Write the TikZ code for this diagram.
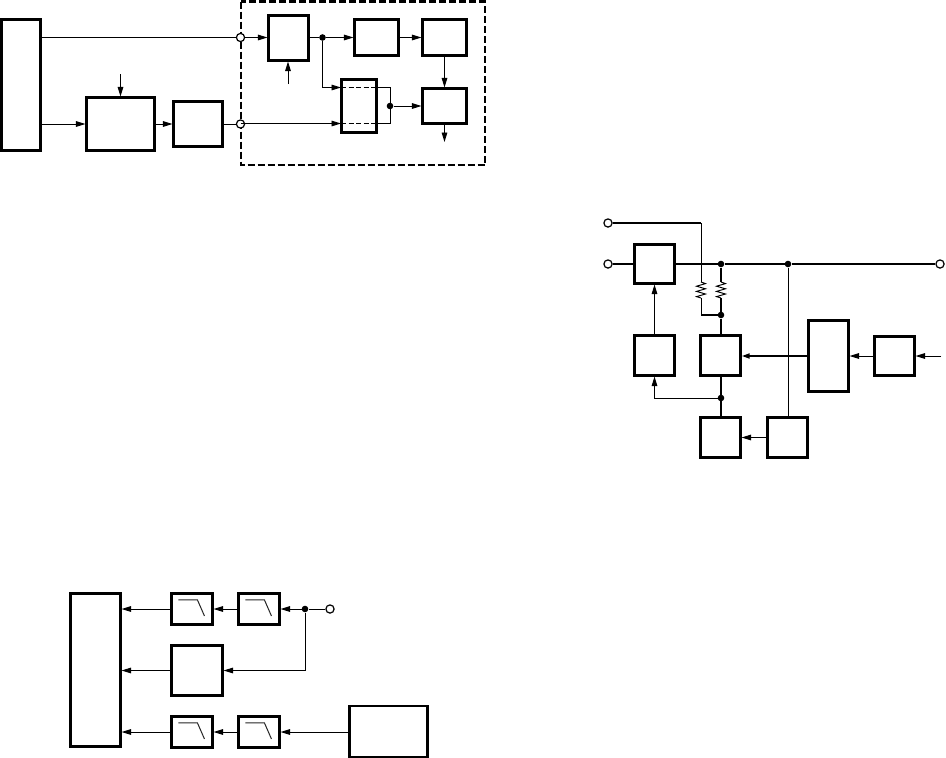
\documentclass[tikz,border=0pt]{standalone}
\usetikzlibrary{arrows.meta,calc}
\tikzset{
  x=1pt,y=-1pt,
  thinline/.style={line width=.95pt},
  thickline/.style={line width=2.5pt},
  arr/.style={thinline,-{Triangle[length=9.5pt,width=5.6pt]}},
  thickarr/.style={thickline,-{Triangle[length=8pt,width=4.8pt]}},
  blk/.style={draw,line width=2.5pt,inner sep=0pt,fill=white},
  opn/.style={circle,draw,line width=1.2pt,fill=white,minimum size=8.2pt,inner sep=0pt},
  dot/.style={circle,fill=black,minimum size=6.6pt,inner sep=0pt},
}
\newcommand\bx[5]{%
  \pgfmathsetmacro\bw{#4-#2-1.4}\pgfmathsetmacro\bh{#5-#3-1.4}%
  \pgfmathsetmacro\bcx{(#4+#2)/2}\pgfmathsetmacro\bcy{(#5+#3)/2}%
  \node[blk,minimum width=\bw pt,minimum height=\bh pt] (#1) at (\bcx,\bcy) {};}
\newcommand\resist[1]{%
  \draw[thinline] (#1) -- ++(4.5,1.6) -- ++(-9,2.6) -- ++(9,2.6) -- ++(-9,2.6) -- ++(9,2.6) -- ++(-9,2.6) -- ++(4.5,1.4);}
\newcommand\lowpass[1]{%
  \draw[line width=1pt,black!85] ($(#1.north west)+(8,7.5)$) -- ++(19,0) -- ++(7,16);}
\begin{document}
\begin{tikzpicture}
\useasboundingbox (0,0) rectangle (946,758);
% --- top left ---
\bx{A}{1}{19}{41}{151}
\bx{B}{86}{97}{155}{151}
\bx{C}{173}{101}{223}{147}
\draw[line width=2.2pt,dashed,dash pattern=on 7pt off 3pt] (241,1.5) rectangle (485,165);
\bx{D}{268}{15}{309}{61}
\bx{E}{354}{19}{399}{56}
\bx{F}{422}{19}{467}{56}
\bx{G}{341}{79}{377}{133}
\bx{H}{422}{88}{467}{124}
\node[opn] (c1) at (240.5,37.5) {};
\node[opn] (c2) at (240.5,124) {};
\node[dot] (d1) at (322.5,37.5) {};
\node[dot] (d2) at (390,106) {};
\coordinate (bin) at (120.5,74);
\coordinate (din) at (288,84);
\coordinate (hout) at (444.5,142);
\coordinate (g1) at (341,87.5);
\coordinate (g2) at (341,123.5);
\coordinate (g1r) at (377,87.5);
\coordinate (g2r) at (377,123.5);
\coordinate (k1) at (390,87.5);
\coordinate (k2) at (390,123.5);
\draw[thinline] (A.east |- c1) -- (c1);
\draw[arr] (A.east |- c2) -- (B.west |- c2);
\draw[arr] (bin) -- (B.north -| bin);
\draw[arr] (B.east |- c2) -- (C.west |- c2);
\draw[thinline] (C.east |- c2) -- (c2);
\draw[arr] (c1) -- (D.west |- c1);
\draw[arr] (din) -- (D.south -| din);
\draw[thinline] (D.east |- d1) -- (d1);
\draw[arr] (d1) -- (E.west |- d1);
\draw[arr] (E.east |- d1) -- (F.west |- d1);
\draw[arr] (F.south) -- (H.north);
\draw[arr] (H.south) -- (hout);
\draw[arr] (d1) |- (g1);
\draw[arr] (c2 |- g2) -- (g2);
\draw[thinline,dashed,dash pattern=on 5pt off 2.5pt] (g1) -- (g1r);
\draw[thinline,dashed,dash pattern=on 5pt off 2.5pt] (g2) -- (g2r);
\draw[thinline] (g1r) -- (k1) -- (k2) -- (g2r);
\draw[arr] (d2) -- (H.west |- d2);
% --- right ---
\bx{J}{634}{244}{675}{284}
\bx{K}{634}{335}{675}{376}
\bx{L}{700}{335}{741}{376}
\bx{M}{700}{417}{741}{458}
\bx{N}{767}{417}{808}{458}
\bx{P}{808}{320}{849}{392}
\bx{Q}{874}{336}{915}{376}
\node[opn] (o1) at (608,223) {};
\node[opn] (o2) at (608,264) {};
\node[opn] (o3) at (940,264) {};
\node[dot] (e1) at (721,264) {};
\node[dot] (e2) at (788,264) {};
\node[dot] (e3) at (721,315) {};
\node[dot] (e4) at (721,398) {};
\coordinate (t1) at (701,223);
\coordinate (r1t) at (701,282);
\coordinate (r1b) at (701,298);
\coordinate (r2t) at (721,282);
\coordinate (r2b) at (721,298);
\coordinate (e3l) at (701,315);
\coordinate (qin) at (941,356);
\draw[thickline] (o1) -- (t1);
\draw[thinline] (t1) -- (r1t);
\resist{r1t}
\draw[thinline] (r1b) -- (e3l);
\draw[thickline] (e3l) -- (e3);
\draw[thickline] (o2) -- (J.west |- o2);
\draw[thickline] (J.east |- o2) -- (e1) -- (e2) -- (o3);
\draw[thickline] (e1) -- (r2t);
\resist{r2t}
\draw[thickline] (r2b) -- (e3);
\draw[thickline] (e3) -- (L.north -| e3);
\draw[thickline] (L.south -| e4) -- (M.north -| e4);
\draw[thinline] (e2) -- (N.north -| e2);
\draw[arr] (K.north) -- (J.south);
\draw[arr] (e4) -| (K.south);
\draw[thickarr] (P.west |- qin) -- (L.east |- qin);
\draw[arr] (Q.west |- qin) -- (P.east |- qin);
\draw[arr] (qin) -- (Q.east |- qin);
\draw[arr] (N.west) -- (M.east);
% --- bottom left ---
\bx{R}{70}{593}{121}{747}
\bx{S1}{171}{593}{213}{625}
\bx{S2}{238}{593}{280}{625}
\bx{T}{171}{645}{223}{696}
\bx{U1}{171}{716}{213}{748}
\bx{U2}{238}{716}{280}{748}
\bx{V}{349}{705.5}{428}{757.5}
\lowpass{S1}\lowpass{S2}\lowpass{U1}\lowpass{U2}
\node[dot] (f1) at (305,609) {};
\node[opn] (f2) at (330,609) {};
\coordinate (tr) at (305,670.5);
\coordinate (vin) at (349,732);
\draw[thinline] (f2) -- (f1);
\draw[arr] (f1) -- (S2.east |- f1);
\draw[arr] (S2.west |- f1) -- (S1.east |- f1);
\draw[arr] (S1.west |- f1) -- (R.east |- f1);
\draw[arr] (f1) |- (T.east |- tr);
\draw[arr] (T.west |- tr) -- (R.east |- tr);
\draw[arr] (V.west |- vin) -- (U2.east |- vin);
\draw[arr] (U2.west |- vin) -- (U1.east |- vin);
\draw[arr] (U1.west |- vin) -- (R.east |- vin);
\end{tikzpicture}
\end{document}
